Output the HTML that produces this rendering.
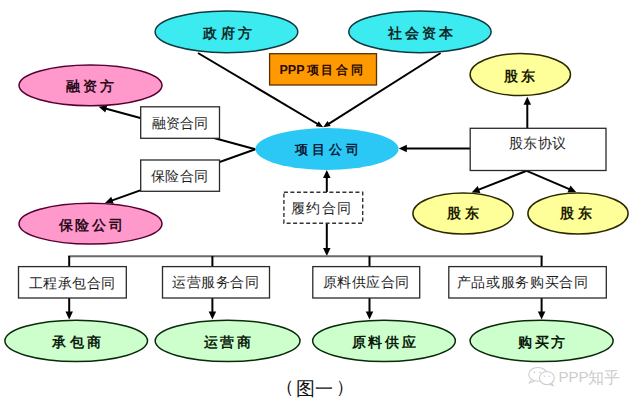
<!DOCTYPE html>
<html><head><meta charset="utf-8">
<style>
html,body{margin:0;padding:0;background:#fff;width:640px;height:404px;overflow:hidden}
svg{display:block}
.b{font-family:"Liberation Sans",sans-serif;font-weight:bold;font-size:13.5px;letter-spacing:3.5px}
.r{font-family:"Liberation Serif",serif;font-size:14px;fill:#1e1e1e}
</style></head><body>
<svg width="640" height="404" viewBox="0 0 640 404">
<g>
<line x1="198.00" y1="53.00" x2="318.04" y2="124.24" stroke="#000" stroke-width="2"/><path d="M323.20,127.30 L315.65,126.31 L318.71,121.15 z" fill="#000"/>
<line x1="440.60" y1="53.00" x2="328.27" y2="124.09" stroke="#000" stroke-width="2"/><path d="M323.20,127.30 L327.51,121.02 L330.72,126.09 z" fill="#000"/>
<line x1="255.30" y1="149.20" x2="105.36" y2="108.53" stroke="#000" stroke-width="2"/><path d="M98.60,106.70 L107.30,105.17 L105.34,112.41 z" fill="#000"/>
<line x1="255.30" y1="149.20" x2="111.59" y2="200.64" stroke="#000" stroke-width="2"/><path d="M105.00,203.00 L111.27,196.77 L113.80,203.83 z" fill="#000"/>
<line x1="470.00" y1="148.60" x2="405.80" y2="148.60" stroke="#000" stroke-width="2"/><path d="M398.80,148.60 L406.80,144.85 L406.80,152.35 z" fill="#000"/>
<line x1="527.30" y1="128.00" x2="527.30" y2="103.80" stroke="#000" stroke-width="2"/><path d="M527.30,96.80 L531.05,104.80 L523.55,104.80 z" fill="#000"/>
<line x1="526.70" y1="170.80" x2="478.12" y2="189.85" stroke="#000" stroke-width="2"/><path d="M471.60,192.40 L477.68,185.99 L480.42,192.97 z" fill="#000"/>
<line x1="526.70" y1="170.80" x2="569.87" y2="189.43" stroke="#000" stroke-width="2"/><path d="M576.30,192.20 L567.47,192.47 L570.44,185.59 z" fill="#000"/>
<line x1="326.80" y1="192.20" x2="326.80" y2="177.00" stroke="#000" stroke-width="2"/><path d="M326.80,170.00 L330.55,178.00 L323.05,178.00 z" fill="#000"/>
<line x1="326.80" y1="223.30" x2="326.80" y2="249.00" stroke="#000" stroke-width="2"/><path d="M326.80,256.00 L323.05,248.00 L330.55,248.00 z" fill="#000"/>
<line x1="68.2" y1="256.3" x2="542.6" y2="256.3" stroke="#6a6a6a" stroke-width="2"/>
<line x1="69.2" y1="256" x2="69.2" y2="266.6" stroke="#000" stroke-width="2"/>
<line x1="69.20" y1="298.00" x2="69.20" y2="312.60" stroke="#000" stroke-width="2"/><path d="M69.20,319.60 L65.45,311.60 L72.95,311.60 z" fill="#000"/>
<line x1="212.4" y1="256" x2="212.4" y2="266.6" stroke="#000" stroke-width="2"/>
<line x1="212.40" y1="298.00" x2="212.40" y2="312.60" stroke="#000" stroke-width="2"/><path d="M212.40,319.60 L208.65,311.60 L216.15,311.60 z" fill="#000"/>
<line x1="369.5" y1="256" x2="369.5" y2="266.6" stroke="#000" stroke-width="2"/>
<line x1="369.50" y1="298.00" x2="369.50" y2="312.60" stroke="#000" stroke-width="2"/><path d="M369.50,319.60 L365.75,311.60 L373.25,311.60 z" fill="#000"/>
<line x1="541.6" y1="256" x2="541.6" y2="266.6" stroke="#000" stroke-width="2"/>
<line x1="541.60" y1="298.00" x2="541.60" y2="312.60" stroke="#000" stroke-width="2"/><path d="M541.60,319.60 L537.85,311.60 L545.35,311.60 z" fill="#000"/>
</g>
<g stroke-width="1.5">
<ellipse cx="226.45" cy="31.8" rx="71.35" ry="20.9" fill="#3CEBF0" stroke="#0e3a40"/>
<ellipse cx="419.95" cy="31.8" rx="71.15" ry="20.9" fill="#3CEBF0" stroke="#0e3a40"/>
<ellipse cx="90.5" cy="85.35" rx="71.5" ry="20.4" fill="#FF99CC" stroke="#550030"/>
<ellipse cx="90.5" cy="223.65" rx="71.5" ry="20.45" fill="#FF99CC" stroke="#550030"/>
<ellipse cx="520.3" cy="74.55" rx="50.2" ry="20.95" fill="#FFFF99" stroke="#2a2a00"/>
<ellipse cx="463" cy="213.5" rx="50.1" ry="20.55" fill="#FFFF99" stroke="#2a2a00"/>
<ellipse cx="578" cy="213.5" rx="50.1" ry="20.55" fill="#FFFF99" stroke="#2a2a00"/>
<ellipse cx="327" cy="149" rx="71.6" ry="20.9" fill="#2CC8F5" stroke="none"/>
<ellipse cx="76.2" cy="340.85" rx="71.3" ry="20.65" fill="#CCFFCC" stroke="#0a2a0a"/>
<ellipse cx="227.6" cy="340.85" rx="72.4" ry="20.65" fill="#CCFFCC" stroke="#0a2a0a"/>
<ellipse cx="384" cy="340.85" rx="71.35" ry="20.65" fill="#CCFFCC" stroke="#0a2a0a"/>
<ellipse cx="541.6" cy="340.85" rx="71.5" ry="20.65" fill="#CCFFCC" stroke="#0a2a0a"/>
</g>
<g fill="#fff" stroke="#2a2a2a" stroke-width="1.3">
<rect x="140.7" y="106.8" width="78.80" height="31.50" />
<rect x="140.7" y="160" width="78.80" height="31.30" />
<rect x="470.2" y="128.3" width="135.80" height="42.20" />
<rect x="18.5" y="266.6" width="107.80" height="31.40" />
<rect x="162.5" y="266.6" width="107.00" height="31.40" />
<rect x="312.8" y="266.6" width="106.90" height="31.40" />
<rect x="448.8" y="266.6" width="157.50" height="31.40" />
<rect x="283.9" y="192.2" width="78.80" height="31.10" stroke-dasharray="4,2.5" stroke-width="1.4" stroke="#333"/>
<rect x="269.6" y="53.7" width="106.90" height="31.30" fill="#FF9900" stroke="#5a3000"/>
</g>
<g class="b" fill="#102a2a">
<text x="203.1" y="38.4">政府方</text>
<text x="387.7" y="37.8" style="letter-spacing:3.2px">社会资本</text>
<text x="66" y="91.4" fill="#2a0a1a" style="letter-spacing:3px">融资方</text>
<text x="58.5" y="229.6" fill="#2a0a1a" style="letter-spacing:2.9px">保险公司</text>
<text x="503.5" y="80.6" fill="#1a1a00">股东</text>
<text x="447" y="218" fill="#1a1a00">股东</text>
<text x="560" y="218" fill="#1a1a00">股东</text>
<text x="294.6" y="153.6" fill="#0a1e3a" style="font-size:12.8px;letter-spacing:4.2px">项目公司</text>
<text x="52.25" y="347.3" fill="#0a1a0a">承包商</text>
<text x="203.5" y="347" fill="#0a1a0a" style="letter-spacing:2.8px">运营商</text>
<text x="351.5" y="347" fill="#0a1a0a" style="letter-spacing:2.8px">原料供应</text>
<text x="518" y="347" fill="#0a1a0a" style="letter-spacing:2.7px">购买方</text>
</g>
<g class="r">
<text x="151.5" y="127.8">融资合同</text>
<text x="151" y="180.6" style="letter-spacing:0.3px">保险合同</text>
<text x="508.5" y="148.3" style="letter-spacing:0.6px">股东协议</text>
<text x="291" y="212.8" style="letter-spacing:1.4px">履约合同</text>
<text x="29" y="287.6" style="letter-spacing:0.45px">工程承包合同</text>
<text x="172" y="287.4" style="letter-spacing:0.5px">运营服务合同</text>
<text x="322.6" y="287.4" style="letter-spacing:0.5px">原料供应合同</text>
<text x="456.5" y="287.4" style="letter-spacing:0.7px">产品或服务购买合同</text>
</g>
<g style="font-family:'Liberation Sans',sans-serif;font-weight:bold" fill="#2a0a00">
<text x="279.5" y="73.8" style="font-size:12.5px">PPP</text>
<text x="306.5" y="73.8" style="font-size:12px;letter-spacing:2.7px">项目合同</text>
</g>
<g style="font-family:'Liberation Serif',serif;font-size:16px" fill="#111">
<text x="276" y="392.6" style="font-size:18px">（</text>
<text x="296.3" y="394.8" style="font-size:18.5px">图</text>
<text x="315.2" y="394.6" style="font-size:17.5px">一</text>
<text x="335.5" y="392.6" style="font-size:18px">）</text>
</g>
<g fill="none" stroke="#cdcdcd" stroke-width="1.1">
<ellipse cx="537.9" cy="374.4" rx="9.2" ry="6.9"/>
<path d="M531,380.5 L529.5,383 L534,381.2"/>
<ellipse cx="546.9" cy="378.1" rx="7.4" ry="6.6" fill="#fff"/>
<path d="M551.5,383.5 L553,385.5 L549.5,384.5"/>
</g>
<g fill="#d0d0d0"><circle cx="534.5" cy="372.3" r="0.9"/><circle cx="540" cy="372.3" r="0.9"/><circle cx="544.5" cy="376.3" r="0.8"/><circle cx="549.2" cy="376.3" r="0.8"/></g>
<g style="font-family:'Liberation Sans',sans-serif" fill="#cccccc">
<text x="558.5" y="382.4" style="font-size:15px">PPP</text>
<text x="587.5" y="382.6" style="font-size:16px">知乎</text>
</g>

</svg>
</body></html>
